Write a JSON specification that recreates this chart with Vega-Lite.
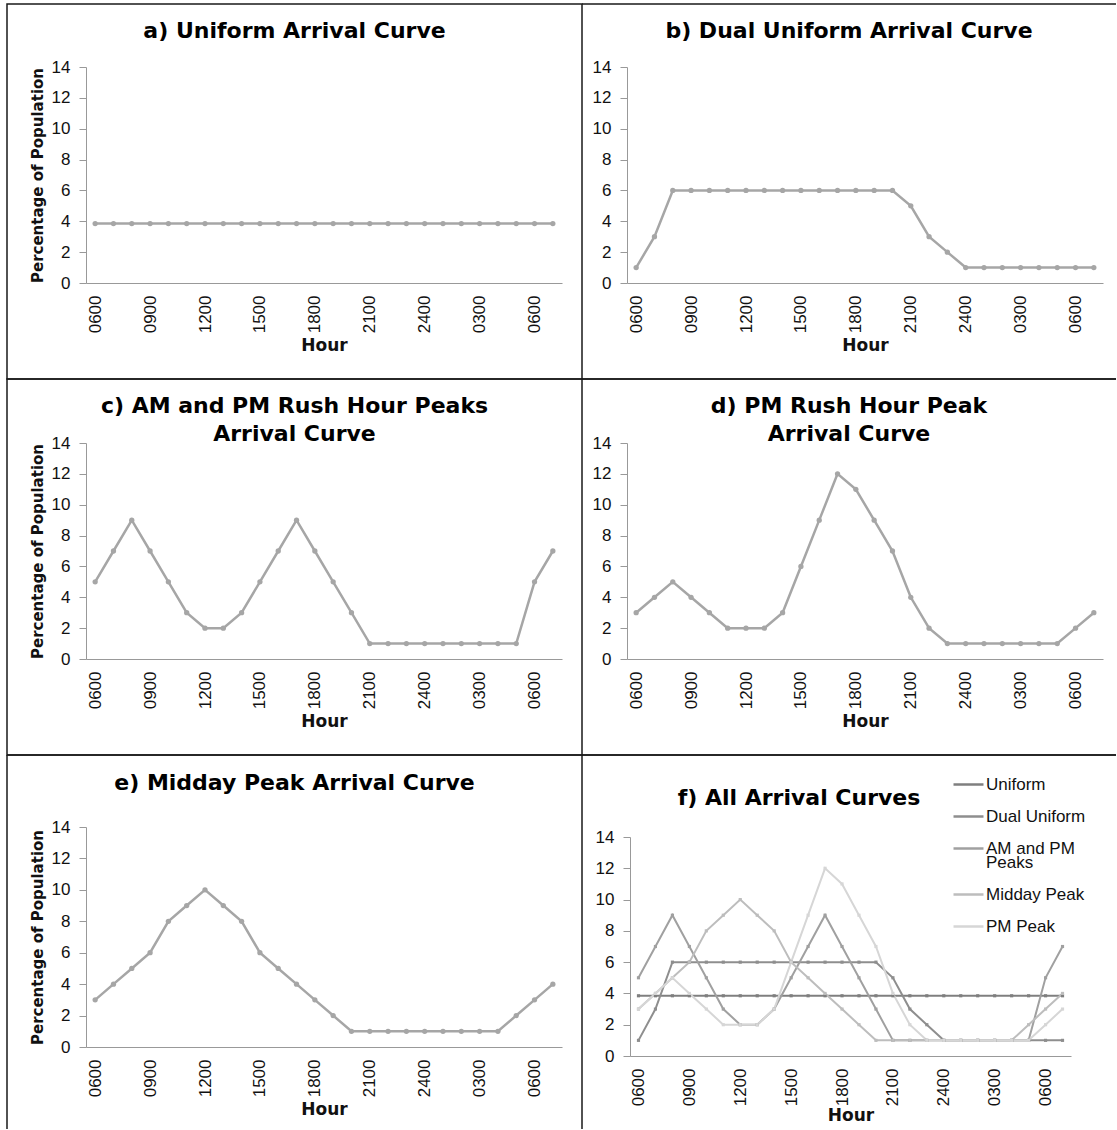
{
  "$schema": "https://vega.github.io/schema/vega-lite/v6.json",
  "padding": {"left": 6, "top": 3, "right": 0, "bottom": 0},
  "background": "white",
  "datasets": {
    "curves": [
      {"i":0,"hour":"0600","curve":"Uniform","pct":3.85},{"i":1,"hour":"0700","curve":"Uniform","pct":3.85},{"i":2,"hour":"0800","curve":"Uniform","pct":3.85},{"i":3,"hour":"0900","curve":"Uniform","pct":3.85},{"i":4,"hour":"1000","curve":"Uniform","pct":3.85},{"i":5,"hour":"1100","curve":"Uniform","pct":3.85},{"i":6,"hour":"1200","curve":"Uniform","pct":3.85},{"i":7,"hour":"1300","curve":"Uniform","pct":3.85},{"i":8,"hour":"1400","curve":"Uniform","pct":3.85},{"i":9,"hour":"1500","curve":"Uniform","pct":3.85},{"i":10,"hour":"1600","curve":"Uniform","pct":3.85},{"i":11,"hour":"1700","curve":"Uniform","pct":3.85},{"i":12,"hour":"1800","curve":"Uniform","pct":3.85},{"i":13,"hour":"1900","curve":"Uniform","pct":3.85},{"i":14,"hour":"2000","curve":"Uniform","pct":3.85},{"i":15,"hour":"2100","curve":"Uniform","pct":3.85},{"i":16,"hour":"2200","curve":"Uniform","pct":3.85},{"i":17,"hour":"2300","curve":"Uniform","pct":3.85},{"i":18,"hour":"2400","curve":"Uniform","pct":3.85},{"i":19,"hour":"0100","curve":"Uniform","pct":3.85},{"i":20,"hour":"0200","curve":"Uniform","pct":3.85},{"i":21,"hour":"0300","curve":"Uniform","pct":3.85},{"i":22,"hour":"0400","curve":"Uniform","pct":3.85},{"i":23,"hour":"0500","curve":"Uniform","pct":3.85},{"i":24,"hour":"0600","curve":"Uniform","pct":3.85},{"i":25,"hour":"0700","curve":"Uniform","pct":3.85},
      {"i":0,"hour":"0600","curve":"Dual Uniform","pct":1},{"i":1,"hour":"0700","curve":"Dual Uniform","pct":3},{"i":2,"hour":"0800","curve":"Dual Uniform","pct":6},{"i":3,"hour":"0900","curve":"Dual Uniform","pct":6},{"i":4,"hour":"1000","curve":"Dual Uniform","pct":6},{"i":5,"hour":"1100","curve":"Dual Uniform","pct":6},{"i":6,"hour":"1200","curve":"Dual Uniform","pct":6},{"i":7,"hour":"1300","curve":"Dual Uniform","pct":6},{"i":8,"hour":"1400","curve":"Dual Uniform","pct":6},{"i":9,"hour":"1500","curve":"Dual Uniform","pct":6},{"i":10,"hour":"1600","curve":"Dual Uniform","pct":6},{"i":11,"hour":"1700","curve":"Dual Uniform","pct":6},{"i":12,"hour":"1800","curve":"Dual Uniform","pct":6},{"i":13,"hour":"1900","curve":"Dual Uniform","pct":6},{"i":14,"hour":"2000","curve":"Dual Uniform","pct":6},{"i":15,"hour":"2100","curve":"Dual Uniform","pct":5},{"i":16,"hour":"2200","curve":"Dual Uniform","pct":3},{"i":17,"hour":"2300","curve":"Dual Uniform","pct":2},{"i":18,"hour":"2400","curve":"Dual Uniform","pct":1},{"i":19,"hour":"0100","curve":"Dual Uniform","pct":1},{"i":20,"hour":"0200","curve":"Dual Uniform","pct":1},{"i":21,"hour":"0300","curve":"Dual Uniform","pct":1},{"i":22,"hour":"0400","curve":"Dual Uniform","pct":1},{"i":23,"hour":"0500","curve":"Dual Uniform","pct":1},{"i":24,"hour":"0600","curve":"Dual Uniform","pct":1},{"i":25,"hour":"0700","curve":"Dual Uniform","pct":1},
      {"i":0,"hour":"0600","curve":"AM and PM Peaks","pct":5},{"i":1,"hour":"0700","curve":"AM and PM Peaks","pct":7},{"i":2,"hour":"0800","curve":"AM and PM Peaks","pct":9},{"i":3,"hour":"0900","curve":"AM and PM Peaks","pct":7},{"i":4,"hour":"1000","curve":"AM and PM Peaks","pct":5},{"i":5,"hour":"1100","curve":"AM and PM Peaks","pct":3},{"i":6,"hour":"1200","curve":"AM and PM Peaks","pct":2},{"i":7,"hour":"1300","curve":"AM and PM Peaks","pct":2},{"i":8,"hour":"1400","curve":"AM and PM Peaks","pct":3},{"i":9,"hour":"1500","curve":"AM and PM Peaks","pct":5},{"i":10,"hour":"1600","curve":"AM and PM Peaks","pct":7},{"i":11,"hour":"1700","curve":"AM and PM Peaks","pct":9},{"i":12,"hour":"1800","curve":"AM and PM Peaks","pct":7},{"i":13,"hour":"1900","curve":"AM and PM Peaks","pct":5},{"i":14,"hour":"2000","curve":"AM and PM Peaks","pct":3},{"i":15,"hour":"2100","curve":"AM and PM Peaks","pct":1},{"i":16,"hour":"2200","curve":"AM and PM Peaks","pct":1},{"i":17,"hour":"2300","curve":"AM and PM Peaks","pct":1},{"i":18,"hour":"2400","curve":"AM and PM Peaks","pct":1},{"i":19,"hour":"0100","curve":"AM and PM Peaks","pct":1},{"i":20,"hour":"0200","curve":"AM and PM Peaks","pct":1},{"i":21,"hour":"0300","curve":"AM and PM Peaks","pct":1},{"i":22,"hour":"0400","curve":"AM and PM Peaks","pct":1},{"i":23,"hour":"0500","curve":"AM and PM Peaks","pct":1},{"i":24,"hour":"0600","curve":"AM and PM Peaks","pct":5},{"i":25,"hour":"0700","curve":"AM and PM Peaks","pct":7},
      {"i":0,"hour":"0600","curve":"Midday Peak","pct":3},{"i":1,"hour":"0700","curve":"Midday Peak","pct":4},{"i":2,"hour":"0800","curve":"Midday Peak","pct":5},{"i":3,"hour":"0900","curve":"Midday Peak","pct":6},{"i":4,"hour":"1000","curve":"Midday Peak","pct":8},{"i":5,"hour":"1100","curve":"Midday Peak","pct":9},{"i":6,"hour":"1200","curve":"Midday Peak","pct":10},{"i":7,"hour":"1300","curve":"Midday Peak","pct":9},{"i":8,"hour":"1400","curve":"Midday Peak","pct":8},{"i":9,"hour":"1500","curve":"Midday Peak","pct":6},{"i":10,"hour":"1600","curve":"Midday Peak","pct":5},{"i":11,"hour":"1700","curve":"Midday Peak","pct":4},{"i":12,"hour":"1800","curve":"Midday Peak","pct":3},{"i":13,"hour":"1900","curve":"Midday Peak","pct":2},{"i":14,"hour":"2000","curve":"Midday Peak","pct":1},{"i":15,"hour":"2100","curve":"Midday Peak","pct":1},{"i":16,"hour":"2200","curve":"Midday Peak","pct":1},{"i":17,"hour":"2300","curve":"Midday Peak","pct":1},{"i":18,"hour":"2400","curve":"Midday Peak","pct":1},{"i":19,"hour":"0100","curve":"Midday Peak","pct":1},{"i":20,"hour":"0200","curve":"Midday Peak","pct":1},{"i":21,"hour":"0300","curve":"Midday Peak","pct":1},{"i":22,"hour":"0400","curve":"Midday Peak","pct":1},{"i":23,"hour":"0500","curve":"Midday Peak","pct":2},{"i":24,"hour":"0600","curve":"Midday Peak","pct":3},{"i":25,"hour":"0700","curve":"Midday Peak","pct":4},
      {"i":0,"hour":"0600","curve":"PM Peak","pct":3},{"i":1,"hour":"0700","curve":"PM Peak","pct":4},{"i":2,"hour":"0800","curve":"PM Peak","pct":5},{"i":3,"hour":"0900","curve":"PM Peak","pct":4},{"i":4,"hour":"1000","curve":"PM Peak","pct":3},{"i":5,"hour":"1100","curve":"PM Peak","pct":2},{"i":6,"hour":"1200","curve":"PM Peak","pct":2},{"i":7,"hour":"1300","curve":"PM Peak","pct":2},{"i":8,"hour":"1400","curve":"PM Peak","pct":3},{"i":9,"hour":"1500","curve":"PM Peak","pct":6},{"i":10,"hour":"1600","curve":"PM Peak","pct":9},{"i":11,"hour":"1700","curve":"PM Peak","pct":12},{"i":12,"hour":"1800","curve":"PM Peak","pct":11},{"i":13,"hour":"1900","curve":"PM Peak","pct":9},{"i":14,"hour":"2000","curve":"PM Peak","pct":7},{"i":15,"hour":"2100","curve":"PM Peak","pct":4},{"i":16,"hour":"2200","curve":"PM Peak","pct":2},{"i":17,"hour":"2300","curve":"PM Peak","pct":1},{"i":18,"hour":"2400","curve":"PM Peak","pct":1},{"i":19,"hour":"0100","curve":"PM Peak","pct":1},{"i":20,"hour":"0200","curve":"PM Peak","pct":1},{"i":21,"hour":"0300","curve":"PM Peak","pct":1},{"i":22,"hour":"0400","curve":"PM Peak","pct":1},{"i":23,"hour":"0500","curve":"PM Peak","pct":1},{"i":24,"hour":"0600","curve":"PM Peak","pct":2},{"i":25,"hour":"0700","curve":"PM Peak","pct":3}
    ]
  },
  "data": {"name": "curves"},
  "columns": 2,
  "spacing": 0,
  "bounds": "flush",
  "align": "each",
  "concat": [
    {
      "width": 575, "height": 375,
      "view": {"stroke": "#1a1a1a", "strokeWidth": 1.5},
      "title": {"text": "a) Uniform Arrival Curve", "offset": -39},
      "transform": [{"filter": "datum.curve === 'Uniform'"}],
      "mark": {"type": "line", "color": "#a6a6a6", "strokeWidth": 2.5, "point": {"filled": true, "size": 28, "color": "#a6a6a6"}},
      "encoding": {
        "x": {"field": "i", "type": "ordinal", "scale": {"type": "point", "padding": 0.5, "range": [79, 555]},
              "axis": {"offset": -96, "title": "Hour", "values": [0,3,6,9,12,15,18,21,24], "labelExpr": "['0600','0900','1200','1500','1800','2100','2400','0300','0600'][datum.value / 3]"}},
        "y": {"field": "pct", "type": "quantitative", "scale": {"domain": [0, 14], "range": [279, 63], "nice": false},
              "axis": {"offset": -79, "title": "Percentage of Population", "values": [0,2,4,6,8,10,12,14]}}
      }
    },
    {
      "width": 534, "height": 375,
      "view": {"stroke": "#1a1a1a", "strokeWidth": 1.5, "strokeDash": [534, 375, 534, 375]},
      "title": {"text": "b) Dual Uniform Arrival Curve", "offset": -39},
      "transform": [{"filter": "datum.curve === 'Dual Uniform'"}],
      "mark": {"type": "line", "color": "#a6a6a6", "strokeWidth": 2.5, "point": {"filled": true, "size": 28, "color": "#a6a6a6"}},
      "encoding": {
        "x": {"field": "i", "type": "ordinal", "scale": {"type": "point", "padding": 0.5, "range": [45, 521]},
              "axis": {"offset": -96, "title": "Hour", "values": [0,3,6,9,12,15,18,21,24], "labelExpr": "['0600','0900','1200','1500','1800','2100','2400','0300','0600'][datum.value / 3]"}},
        "y": {"field": "pct", "type": "quantitative", "scale": {"domain": [0, 14], "range": [279, 63], "nice": false},
              "axis": {"offset": -45, "title": null, "values": [0,2,4,6,8,10,12,14]}}
      }
    },
    {
      "width": 575, "height": 376,
      "view": {"stroke": "#1a1a1a", "strokeWidth": 1.5},
      "title": {"text": ["c) AM and PM Rush Hour Peaks", "Arrival Curve"], "offset": -67},
      "transform": [{"filter": "datum.curve === 'AM and PM Peaks'"}],
      "mark": {"type": "line", "color": "#a6a6a6", "strokeWidth": 2.5, "point": {"filled": true, "size": 28, "color": "#a6a6a6"}},
      "encoding": {
        "x": {"field": "i", "type": "ordinal", "scale": {"type": "point", "padding": 0.5, "range": [79, 555]},
              "axis": {"offset": -96, "title": "Hour", "values": [0,3,6,9,12,15,18,21,24], "labelExpr": "['0600','0900','1200','1500','1800','2100','2400','0300','0600'][datum.value / 3]"}},
        "y": {"field": "pct", "type": "quantitative", "scale": {"domain": [0, 14], "range": [280, 64], "nice": false},
              "axis": {"offset": -79, "title": "Percentage of Population", "values": [0,2,4,6,8,10,12,14]}}
      }
    },
    {
      "width": 534, "height": 376,
      "view": {"stroke": "#1a1a1a", "strokeWidth": 1.5, "strokeDash": [534, 376, 534, 376]},
      "title": {"text": ["d) PM Rush Hour Peak", "Arrival Curve"], "offset": -67},
      "transform": [{"filter": "datum.curve === 'PM Peak'"}],
      "mark": {"type": "line", "color": "#a6a6a6", "strokeWidth": 2.5, "point": {"filled": true, "size": 28, "color": "#a6a6a6"}},
      "encoding": {
        "x": {"field": "i", "type": "ordinal", "scale": {"type": "point", "padding": 0.5, "range": [45, 521]},
              "axis": {"offset": -96, "title": "Hour", "values": [0,3,6,9,12,15,18,21,24], "labelExpr": "['0600','0900','1200','1500','1800','2100','2400','0300','0600'][datum.value / 3]"}},
        "y": {"field": "pct", "type": "quantitative", "scale": {"domain": [0, 14], "range": [280, 64], "nice": false},
              "axis": {"offset": -45, "title": null, "values": [0,2,4,6,8,10,12,14]}}
      }
    },
    {
      "width": 575, "height": 374,
      "view": {"stroke": "#1a1a1a", "strokeWidth": 1.5, "strokeDash": [949, 575, 374, 0]},
      "title": {"text": "e) Midday Peak Arrival Curve", "offset": -40},
      "transform": [{"filter": "datum.curve === 'Midday Peak'"}],
      "mark": {"type": "line", "color": "#a6a6a6", "strokeWidth": 2.5, "point": {"filled": true, "size": 28, "color": "#a6a6a6"}},
      "encoding": {
        "x": {"field": "i", "type": "ordinal", "scale": {"type": "point", "padding": 0.5, "range": [79, 555]},
              "axis": {"offset": -82, "title": "Hour", "values": [0,3,6,9,12,15,18,21,24], "labelExpr": "['0600','0900','1200','1500','1800','2100','2400','0300','0600'][datum.value / 3]"}},
        "y": {"field": "pct", "type": "quantitative", "scale": {"domain": [0, 14], "range": [292, 72], "nice": false},
              "axis": {"offset": -79, "title": "Percentage of Population", "values": [0,2,4,6,8,10,12,14]}}
      }
    },
    {
      "width": 534, "height": 374,
      "view": {"stroke": "#1a1a1a", "strokeWidth": 1.5, "strokeDash": [534, 2000]},
      "title": {"text": "f) All Arrival Curves", "offset": -55, "dx": -50},
      "mark": {"type": "line", "strokeWidth": 2, "point": {"filled": true, "size": 10, "shape": "square"}},
      "encoding": {
        "x": {"field": "i", "type": "ordinal", "scale": {"type": "point", "padding": 0.5, "range": [48, 489]},
              "axis": {"offset": -73, "title": "Hour", "titlePadding": 2, "values": [0,3,6,9,12,15,18,21,24], "labelExpr": "['0600','0900','1200','1500','1800','2100','2400','0300','0600'][datum.value / 3]"}},
        "y": {"field": "pct", "type": "quantitative", "scale": {"domain": [0, 14], "range": [301, 82], "nice": false},
              "axis": {"offset": -48, "title": null, "values": [0,2,4,6,8,10,12,14]}},
        "color": {"field": "curve", "type": "nominal",
                  "scale": {"domain": ["Uniform", "Dual Uniform", "AM and PM Peaks", "Midday Peak", "PM Peak"],
                            "range": ["#7f7f7f", "#8e8e8e", "#a0a0a0", "#bdbdbd", "#d6d6d6"]},
                  "legend": {"title": null, "orient": "none", "legendX": 945, "legendY": 764,
                             "symbolType": "stroke", "symbolSize": 900, "symbolStrokeWidth": 2.5,
                             "labelFontSize": 17, "labelColor": "#111", "labelOffset": 1, "labelLimit": 200,
                             "gridAlign": "each", "rowPadding": 7,
                             "labelExpr": "datum.label == 'AM and PM Peaks' ? ['AM and PM', 'Peaks'] : datum.label",
                             "encode": {"labels": {"update": {"lineHeight": {"value": 14}}}}}}
      }
    }
  ],
  "config": {
    "font": "Liberation Sans",
    "view": {"stroke": "#1a1a1a", "strokeWidth": 1.5},
    "title": {"font": "DejaVu Sans", "fontSize": 22, "fontWeight": "bold", "color": "#000", "anchor": "middle", "frame": "group", "baseline": "alphabetic", "lineHeight": 28},
    "axis": {"grid": false, "domainColor": "#999999", "domainWidth": 1, "tickColor": "#999999", "tickSize": 7,
             "labelColor": "#111", "labelFont": "Liberation Sans", "labelFontSize": 17, "labelPadding": 9,
             "titleColor": "#111", "titleFont": "DejaVu Sans", "titleFontSize": 15, "titleFontWeight": "bold", "titlePadding": 6},
    "axisX": {"ticks": false, "labelAngle": -90, "labelPadding": 12, "titlePadding": 5, "titleFontSize": 17},
    "legend": {"labelFont": "Liberation Sans"}
  }
}
